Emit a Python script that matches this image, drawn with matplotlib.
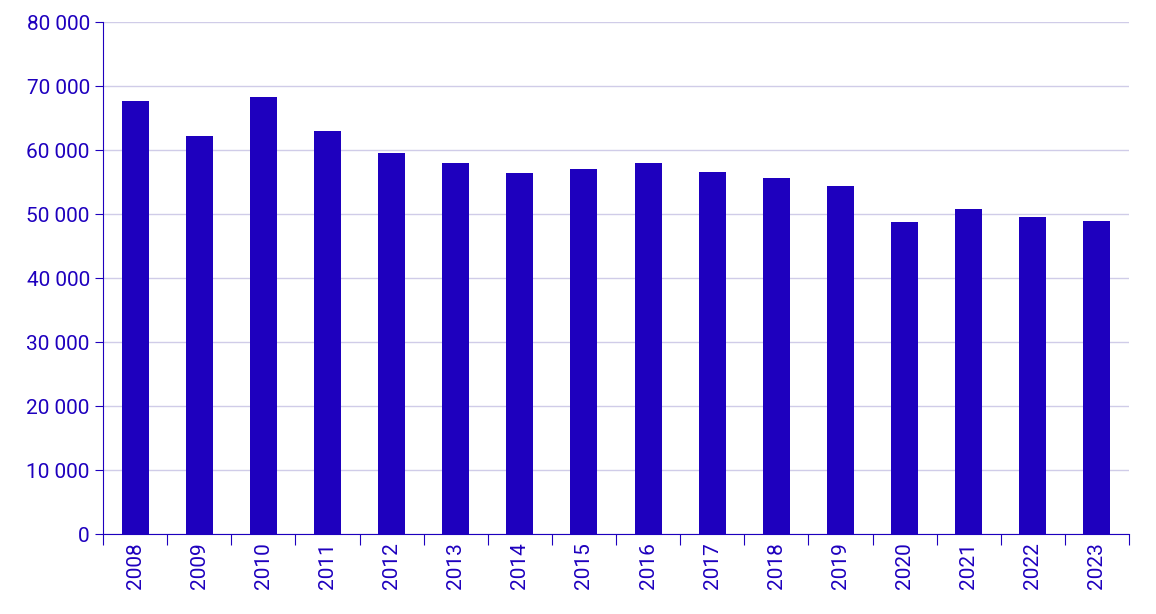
import matplotlib
matplotlib.use("Agg")
import matplotlib.pyplot as plt
from matplotlib.ticker import FuncFormatter, MultipleLocator

years = [str(y) for y in range(2008, 2024)]
values = [67700, 62200, 68300, 63000, 59500, 58000, 56400, 57000, 58000, 56600,
          55600, 54400, 48750, 50800, 49600, 48900]

col = "#1e00be"
plt.rcParams['font.family'] = ['Roboto', 'DejaVu Sans']
fig = plt.figure(figsize=(11.56, 6.14), dpi=100)
ax = fig.add_axes([103/1156, 1-534/614, (1129-103)/1156, (534-22)/614])
x = range(len(years))
ax.bar(x, values, width=0.42, color=col, zorder=3)
ax.set_xlim(-0.5, len(years)-0.5)
ax.set_ylim(0, 80000)
ax.yaxis.set_major_locator(MultipleLocator(10000))
ax.yaxis.set_major_formatter(FuncFormatter(lambda v, p: f"{int(v):,}".replace(",", " ")))
ax.grid(axis='y', color='#d0cce8', linewidth=1, zorder=0)
for s in ['top', 'right']:
    ax.spines[s].set_visible(False)
ax.spines['left'].set_color(col)
ax.spines['bottom'].set_color(col)
ax.set_xticks([i - 0.5 for i in range(len(years)+1)], minor=False)
ax.set_xticklabels([])
ax.set_xticks(list(x), minor=True)
ax.set_xticklabels(years, minor=True, rotation=90, fontsize=15, color=col)
ax.tick_params(axis='x', which='major', length=8, color=col)
ax.tick_params(axis='x', which='minor', length=0, pad=6)
ax.tick_params(axis='y', length=6, color=col, labelsize=15, labelcolor=col)
fig.savefig("out.png", dpi=100)
